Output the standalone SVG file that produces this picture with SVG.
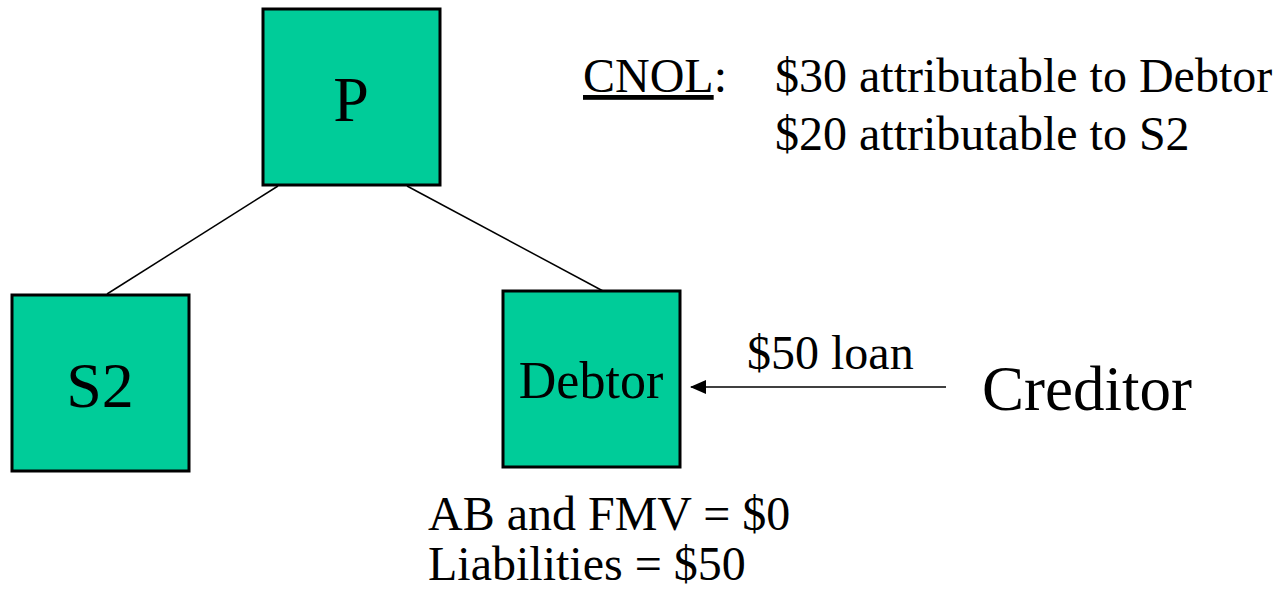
<svg xmlns="http://www.w3.org/2000/svg" width="1276" height="590" viewBox="0 0 1276 590">
<style>
.box{fill:#00CC99;stroke:#000;stroke-width:3}
text{font-family:'Liberation Serif','Times New Roman',serif;fill:#000}
.c{stroke:#000;stroke-width:1.5;fill:none}
</style>
<defs>
<marker id="ah" markerWidth="16" markerHeight="14" refX="15" refY="7" orient="auto" markerUnits="userSpaceOnUse">
<path d="M0,0 L16,7 L0,14 Z" fill="#000"/>
</marker>
</defs>
<rect width="1276" height="590" fill="#fff"/>
<g id="connectors">
<line class="c" x1="278" y1="186" x2="107" y2="294"/>
<line class="c" x1="407" y1="186" x2="603" y2="291"/>
<line class="c" x1="946" y1="387" x2="691" y2="387" stroke-width="2" marker-end="url(#ah)"/>
</g>
<g id="node-P">
<rect class="box" x="263" y="9" width="177" height="176"/>
<text x="351" y="121" font-size="64" text-anchor="middle">P</text>
</g>
<g id="node-S2">
<rect class="box" x="12" y="295" width="177" height="176"/>
<text x="100" y="407" font-size="64" text-anchor="middle">S2</text>
</g>
<g id="node-Debtor">
<rect class="box" x="503" y="291" width="177" height="176"/>
<text x="591" y="398" font-size="52" text-anchor="middle">Debtor</text>
</g>
<g id="node-Creditor">
<text x="982" y="410" font-size="63">Creditor</text>
</g>
<g id="labels">
<text x="583" y="92" font-size="48"><tspan text-decoration="underline">CNOL</tspan>:</text>
<text x="775" y="92" font-size="48">$30 attributable to Debtor</text>
<text x="775" y="150" font-size="48">$20 attributable to S2</text>
<text x="747" y="369" font-size="48">$50 loan</text>
<text x="428" y="530" font-size="48">AB and FMV = $0</text>
<text x="428" y="580" font-size="48">Liabilities = $50</text>
</g>
</svg>
